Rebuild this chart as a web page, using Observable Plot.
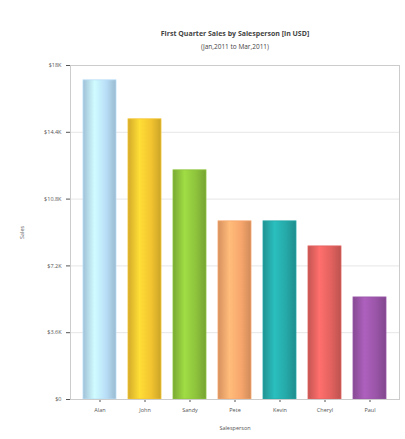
<!DOCTYPE html>
<html><head><meta charset="utf-8">
<script src="https://cdn.jsdelivr.net/npm/d3@7"></script>
<script src="https://cdn.jsdelivr.net/npm/@observablehq/plot@0.6"></script>
<style>
body{margin:0;background:#fff;font-family:"Open Sans",sans-serif;}
#wrap{width:405px;height:439px;position:relative;}
#title{position:absolute;top:29px;left:70px;width:330px;text-align:center;font-size:7px;font-weight:bold;color:#444;}
#sub{position:absolute;top:42px;left:70px;width:330px;text-align:center;font-size:6.5px;color:#444;}
#chart{position:absolute;top:55px;left:0;}
</style></head><body>
<div id="wrap">
<div id="title">First Quarter Sales by Salesperson [in USD]</div>
<div id="sub">(Jan,2011 to Mar,2011)</div>
<div id="chart"></div>
</div>
<script>
const names = ["Alan","John","Sandy","Pete","Kevin","Cheryl","Paul"];
const sales = [17200,15100,12350,9600,9600,8250,5500];
const colors = ["#b8def7","#f3c430","#8dc33c","#f7a66c","#25a9a8","#e2625f","#9a55a8"];
const yTicks = [0,3600,7200,10800,14400,18000];
const yTickLabels = ["$0","$3.6K","$7.2K","$10.8K","$14.4K","$18K"];

const data = names.map((n,i)=>({name:n, sales:sales[i], color:colors[i], gid:"g"+i}));

const plot = Plot.plot({
  width:405, height:384,
  marginTop:10, marginBottom:40, marginLeft:70, marginRight:6,
  style:{fontSize:"5.5px", fontFamily:"Open Sans, sans-serif", color:"#555"},
  x:{domain:names, padding:0.27, label:"Salesperson", labelAnchor:"center", labelOffset:30, tickSize:3, labelArrow:"none"},
  y:{domain:[0,18000], ticks:yTicks, tickFormat:(d)=>yTickLabels[yTicks.indexOf(d)], label:"Sales", labelAnchor:"center", labelOffset:50, tickSize:4, grid:false, labelArrow:"none"},
  marks:[
    Plot.gridY(yTicks,{stroke:"#e6e6e6", strokeOpacity:1}),
    Plot.barY(data,{x:"name", y:"sales", fill:d=>`url(#${d.gid})`, stroke:d=>d.color, strokeWidth:0.8}),
    Plot.frame({stroke:"#ccc"})
  ]
});
const svgns="http://www.w3.org/2000/svg";
const defs=document.createElementNS(svgns,"defs");
data.forEach(d=>{
  const g=document.createElementNS(svgns,"linearGradient");
  g.setAttribute("id",d.gid);
  g.setAttribute("x1","0");g.setAttribute("x2","1");g.setAttribute("y1","0");g.setAttribute("y2","0");
  const c=d3.color(d.color);
  [[0,c.darker(0.4)],[0.35,c.brighter(0.35)],[0.7,c],[1,c.darker(0.5)]].forEach(([o,col])=>{
    const s=document.createElementNS(svgns,"stop");
    s.setAttribute("offset",o);s.setAttribute("stop-color",col.formatHex());
    g.appendChild(s);
  });
  defs.appendChild(g);
});
plot.insertBefore(defs, plot.firstChild);
document.getElementById("chart").appendChild(plot);
</script>
</body></html>
